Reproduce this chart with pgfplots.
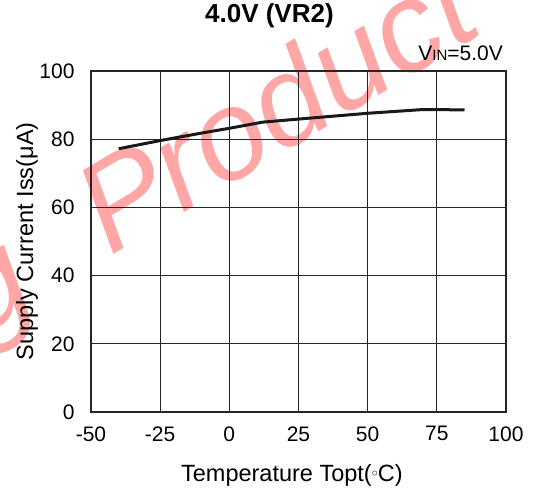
\documentclass[border=0pt]{standalone}
\usepackage{fontspec}
\setmainfont{Liberation Sans}
\usepackage{pgfplots}
\pgfplotsset{compat=1.18}
\begin{document}
\begin{tikzpicture}
\useasboundingbox (-91pt,-78pt) rectangle (444pt,412pt);
\clip (-91pt,-78pt) rectangle (444pt,412pt);
% watermark (under the chart)
\node[rotate=31, anchor=base west, inner sep=0pt, text=red, text opacity=0.35, font=\fontsize{127}{127}\selectfont\itshape] at (19pt,155pt) {Product};
\node[rotate=31, anchor=base east, inner sep=0pt, text=red, text opacity=0.35, font=\fontsize{127}{127}\selectfont\itshape] at (-51pt,110pt) {g};
\begin{axis}[
  scale only axis,
  width=415pt, height=341pt,
  xmin=-50, xmax=100, ymin=0, ymax=100,
  xtick={-50,-25,0,25,50,75,100},
  ytick={0,20,40,60,80,100},
  major tick length=0pt,
  grid=major,
  grid style={line width=1pt, color=black!85},
  axis line style={line width=1.2pt, color=black!85},
  /pgf/number format/assume math mode=true,
  tick label style={font=\fontsize{21}{21}\selectfont},
  yticklabel style={xshift=-13pt},
  xticklabel style={yshift=-11pt},
  xlabel={Temperature Topt(\raisebox{0.35ex}{\fontsize{13}{13}\selectfont$\circ$}C)},
  ylabel={Supply Current Iss(μA)},
  label style={font=\fontsize{23.5}{23.5}\selectfont},
  xlabel style={at={(axis description cs:0.484,0)}, anchor=center, yshift=-63pt},
  ylabel style={at={(axis description cs:0,0.5)}, anchor=center, yshift=64pt},
  title={\fontsize{26}{26}\selectfont\bfseries 4.0V (VR2)},
  title style={at={(axis description cs:0.430,1)}, anchor=center, yshift=49pt},
  clip=false,
]
\addplot[line width=3pt, black!90, line join=round] coordinates {
  (-40,77.2) (-25,79.6) (-10,81.8) (0,83.2) (12,85.0) (25,85.9) (50,87.6) (70,88.7) (85,88.6)
};
\node[anchor=base east, inner sep=0pt, font=\fontsize{21}{21}\selectfont] at (axis description cs:1,1) [xshift=-3pt, yshift=10pt] {V{\fontsize{15}{15}\selectfont IN}=5.0V};
\end{axis}
\end{tikzpicture}
\end{document}
